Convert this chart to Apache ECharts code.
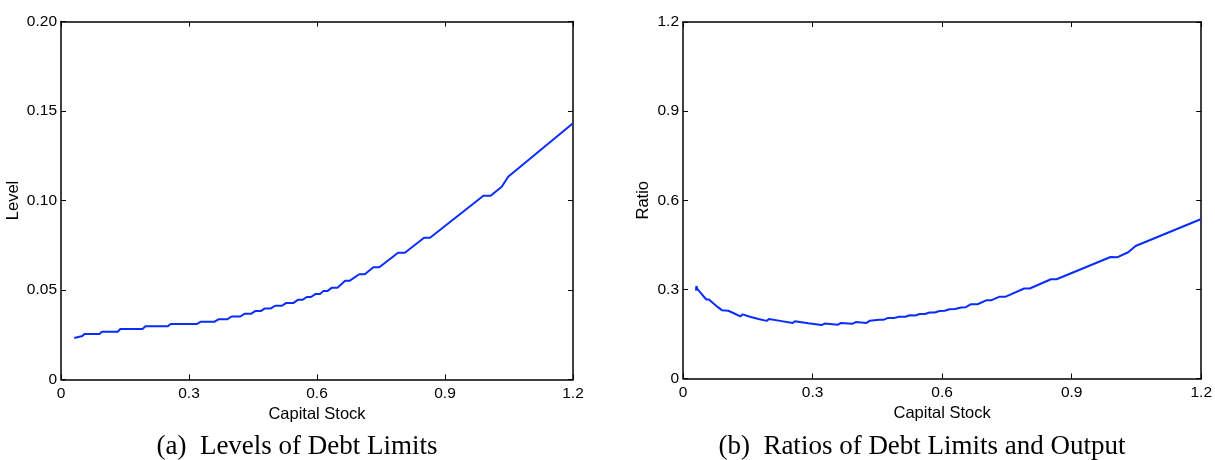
<!DOCTYPE html>
<html>
<head>
<meta charset="utf-8">
<script src="https://cdn.jsdelivr.net/npm/echarts@6/dist/echarts.min.js"></script>
<style>
html,body{margin:0;padding:0;background:#fff;}
#chart{width:1215px;height:460px;}
</style>
</head>
<body>
<div id="chart"></div>
<script>
// ---- data ----
const xTickLabels = ['0', '0.3', '0.6', '0.9', '1.2'];
const levelTickLabels = ['0', '0.05', '0.10', '0.15', '0.20'];
const ratioTickLabels = ['0', '0.3', '0.6', '0.9', '1.2'];

const levelX = [0.031,0.032,0.050,0.055,0.090,0.096,0.133,0.139,0.191,0.198,0.250,0.257,0.318,0.328,0.360,0.370,0.390,0.400,0.420,0.430,0.445,0.455,0.468,0.478,0.492,0.502,0.518,0.528,0.545,0.555,0.566,0.576,0.586,0.596,0.607,0.615,0.625,0.635,0.648,0.666,0.677,0.699,0.712,0.732,0.746,0.790,0.806,0.851,0.865,0.990,1.007,1.033,1.048,1.200];
const levelY = [0.0232,0.0243,0.0243,0.0254,0.0254,0.0267,0.0267,0.0282,0.0282,0.0297,0.0297,0.0310,0.0310,0.0323,0.0323,0.0337,0.0337,0.0352,0.0352,0.0367,0.0367,0.0382,0.0382,0.0397,0.0397,0.0412,0.0412,0.0428,0.0428,0.0445,0.0445,0.0461,0.0461,0.0477,0.0477,0.0495,0.0495,0.0513,0.0513,0.0552,0.0552,0.0588,0.0588,0.0627,0.0627,0.0708,0.0708,0.0792,0.0792,0.1027,0.1027,0.1077,0.1133,0.1432];

const ratioX = [0.030,0.031,0.034,0.040,0.048,0.054,0.056,0.060,0.070,0.080,0.090,0.094,0.105,0.120,0.133,0.138,0.155,0.175,0.194,0.199,0.225,0.254,0.259,0.290,0.321,0.328,0.359,0.366,0.392,0.400,0.425,0.432,0.455,0.465,0.475,0.490,0.500,0.515,0.525,0.538,0.548,0.560,0.571,0.583,0.594,0.606,0.617,0.630,0.644,0.655,0.667,0.682,0.702,0.713,0.732,0.746,0.790,0.803,0.852,0.865,0.990,1.005,1.031,1.048,1.200];
const ratioY = [0.296,0.311,0.300,0.290,0.276,0.266,0.272,0.266,0.253,0.241,0.230,0.236,0.228,0.218,0.209,0.216,0.208,0.200,0.194,0.200,0.194,0.187,0.193,0.186,0.180,0.185,0.181,0.187,0.184,0.190,0.187,0.194,0.198,0.198,0.204,0.204,0.208,0.208,0.213,0.212,0.217,0.217,0.222,0.222,0.227,0.228,0.233,0.234,0.239,0.240,0.250,0.250,0.263,0.263,0.275,0.275,0.303,0.303,0.334,0.334,0.409,0.408,0.425,0.446,0.537];

const captionA = '(a)  Levels of Debt Limits';
const captionB = '(b)  Ratios of Debt Limits and Output';

// ---- chart ----
const SANS = 'Liberation Sans, Arial, Helvetica, sans-serif';
const SERIF = 'Liberation Serif, Times New Roman, serif';
const TICK_FS = 15.5;
const NAME_FS = 16.5;
const lineCol = '#0a2cff';

function zip(xs, ys) { return xs.map((x, i) => [x, ys[i]]); }

function xAxes(gridIndex) {
  const base = {
    type: 'value', gridIndex: gridIndex, min: 0, max: 1.2, interval: 0.3,
    axisLine: { show: true, onZero: false, lineStyle: { color: '#000', width: 1.5 } },
    axisTick: { show: true, inside: true, length: 5, lineStyle: { color: '#000', width: 1 } },
    splitLine: { show: false }
  };
  return [
    Object.assign({}, base, {
      position: 'bottom',
      name: 'Capital Stock', nameLocation: 'middle', nameGap: 18,
      nameTextStyle: { fontFamily: SANS, fontSize: NAME_FS, color: '#000' },
      axisLabel: { show: true, margin: 6, fontFamily: SANS, fontSize: TICK_FS, color: '#000',
        formatter: v => xTickLabels[Math.round(v / 0.3)] }
    }),
    Object.assign({}, base, { position: 'top', axisLabel: { show: false } })
  ];
}

function yAxes(gridIndex, max, interval, labels, name, gap) {
  const base = {
    type: 'value', gridIndex: gridIndex, min: 0, max: max, interval: interval,
    axisLine: { show: true, onZero: false, lineStyle: { color: '#000', width: 1.5 } },
    axisTick: { show: true, inside: true, length: 5, lineStyle: { color: '#000', width: 1 } },
    splitLine: { show: false }
  };
  return [
    Object.assign({}, base, {
      position: 'left',
      name: name, nameLocation: 'middle', nameGap: gap, nameRotate: 90,
      nameTextStyle: { fontFamily: SANS, fontSize: NAME_FS, color: '#000' },
      axisLabel: { show: true, margin: 4, fontFamily: SANS, fontSize: TICK_FS, color: '#000',
        formatter: v => labels[Math.round(v / interval)] }
    }),
    Object.assign({}, base, { position: 'right', axisLabel: { show: false } })
  ];
}

const chart = echarts.init(document.getElementById('chart'), null, { renderer: 'canvas' });
chart.setOption({
  animation: false,
  backgroundColor: '#fff',
  grid: [
    { left: 61, top: 21.5, width: 512, height: 358 },
    { left: 683, top: 22, width: 520, height: 356.5 }
  ],
  xAxis: [].concat(xAxes(0), xAxes(1)),
  yAxis: [].concat(
    yAxes(0, 0.2, 0.05, levelTickLabels, 'Level', 39),
    yAxes(1, 1.2, 0.3, ratioTickLabels, 'Ratio', 31)
  ),
  series: [
    { type: 'line', xAxisIndex: 0, yAxisIndex: 0, data: zip(levelX, levelY),
      showSymbol: false, symbol: 'none', lineStyle: { color: lineCol, width: 2 }, silent: true },
    { type: 'line', xAxisIndex: 2, yAxisIndex: 2, data: zip(ratioX, ratioY),
      showSymbol: false, symbol: 'none', lineStyle: { color: lineCol, width: 2 }, silent: true }
  ],
  graphic: [
    { type: 'text', x: 297, y: 447, style: { text: captionA, fontFamily: SERIF, fontSize: 27,
      fill: '#000', textAlign: 'center', textVerticalAlign: 'middle' } },
    { type: 'text', x: 922, y: 447, style: { text: captionB, fontFamily: SERIF, fontSize: 27,
      fill: '#000', textAlign: 'center', textVerticalAlign: 'middle' } }
  ]
});
</script>
</body>
</html>
